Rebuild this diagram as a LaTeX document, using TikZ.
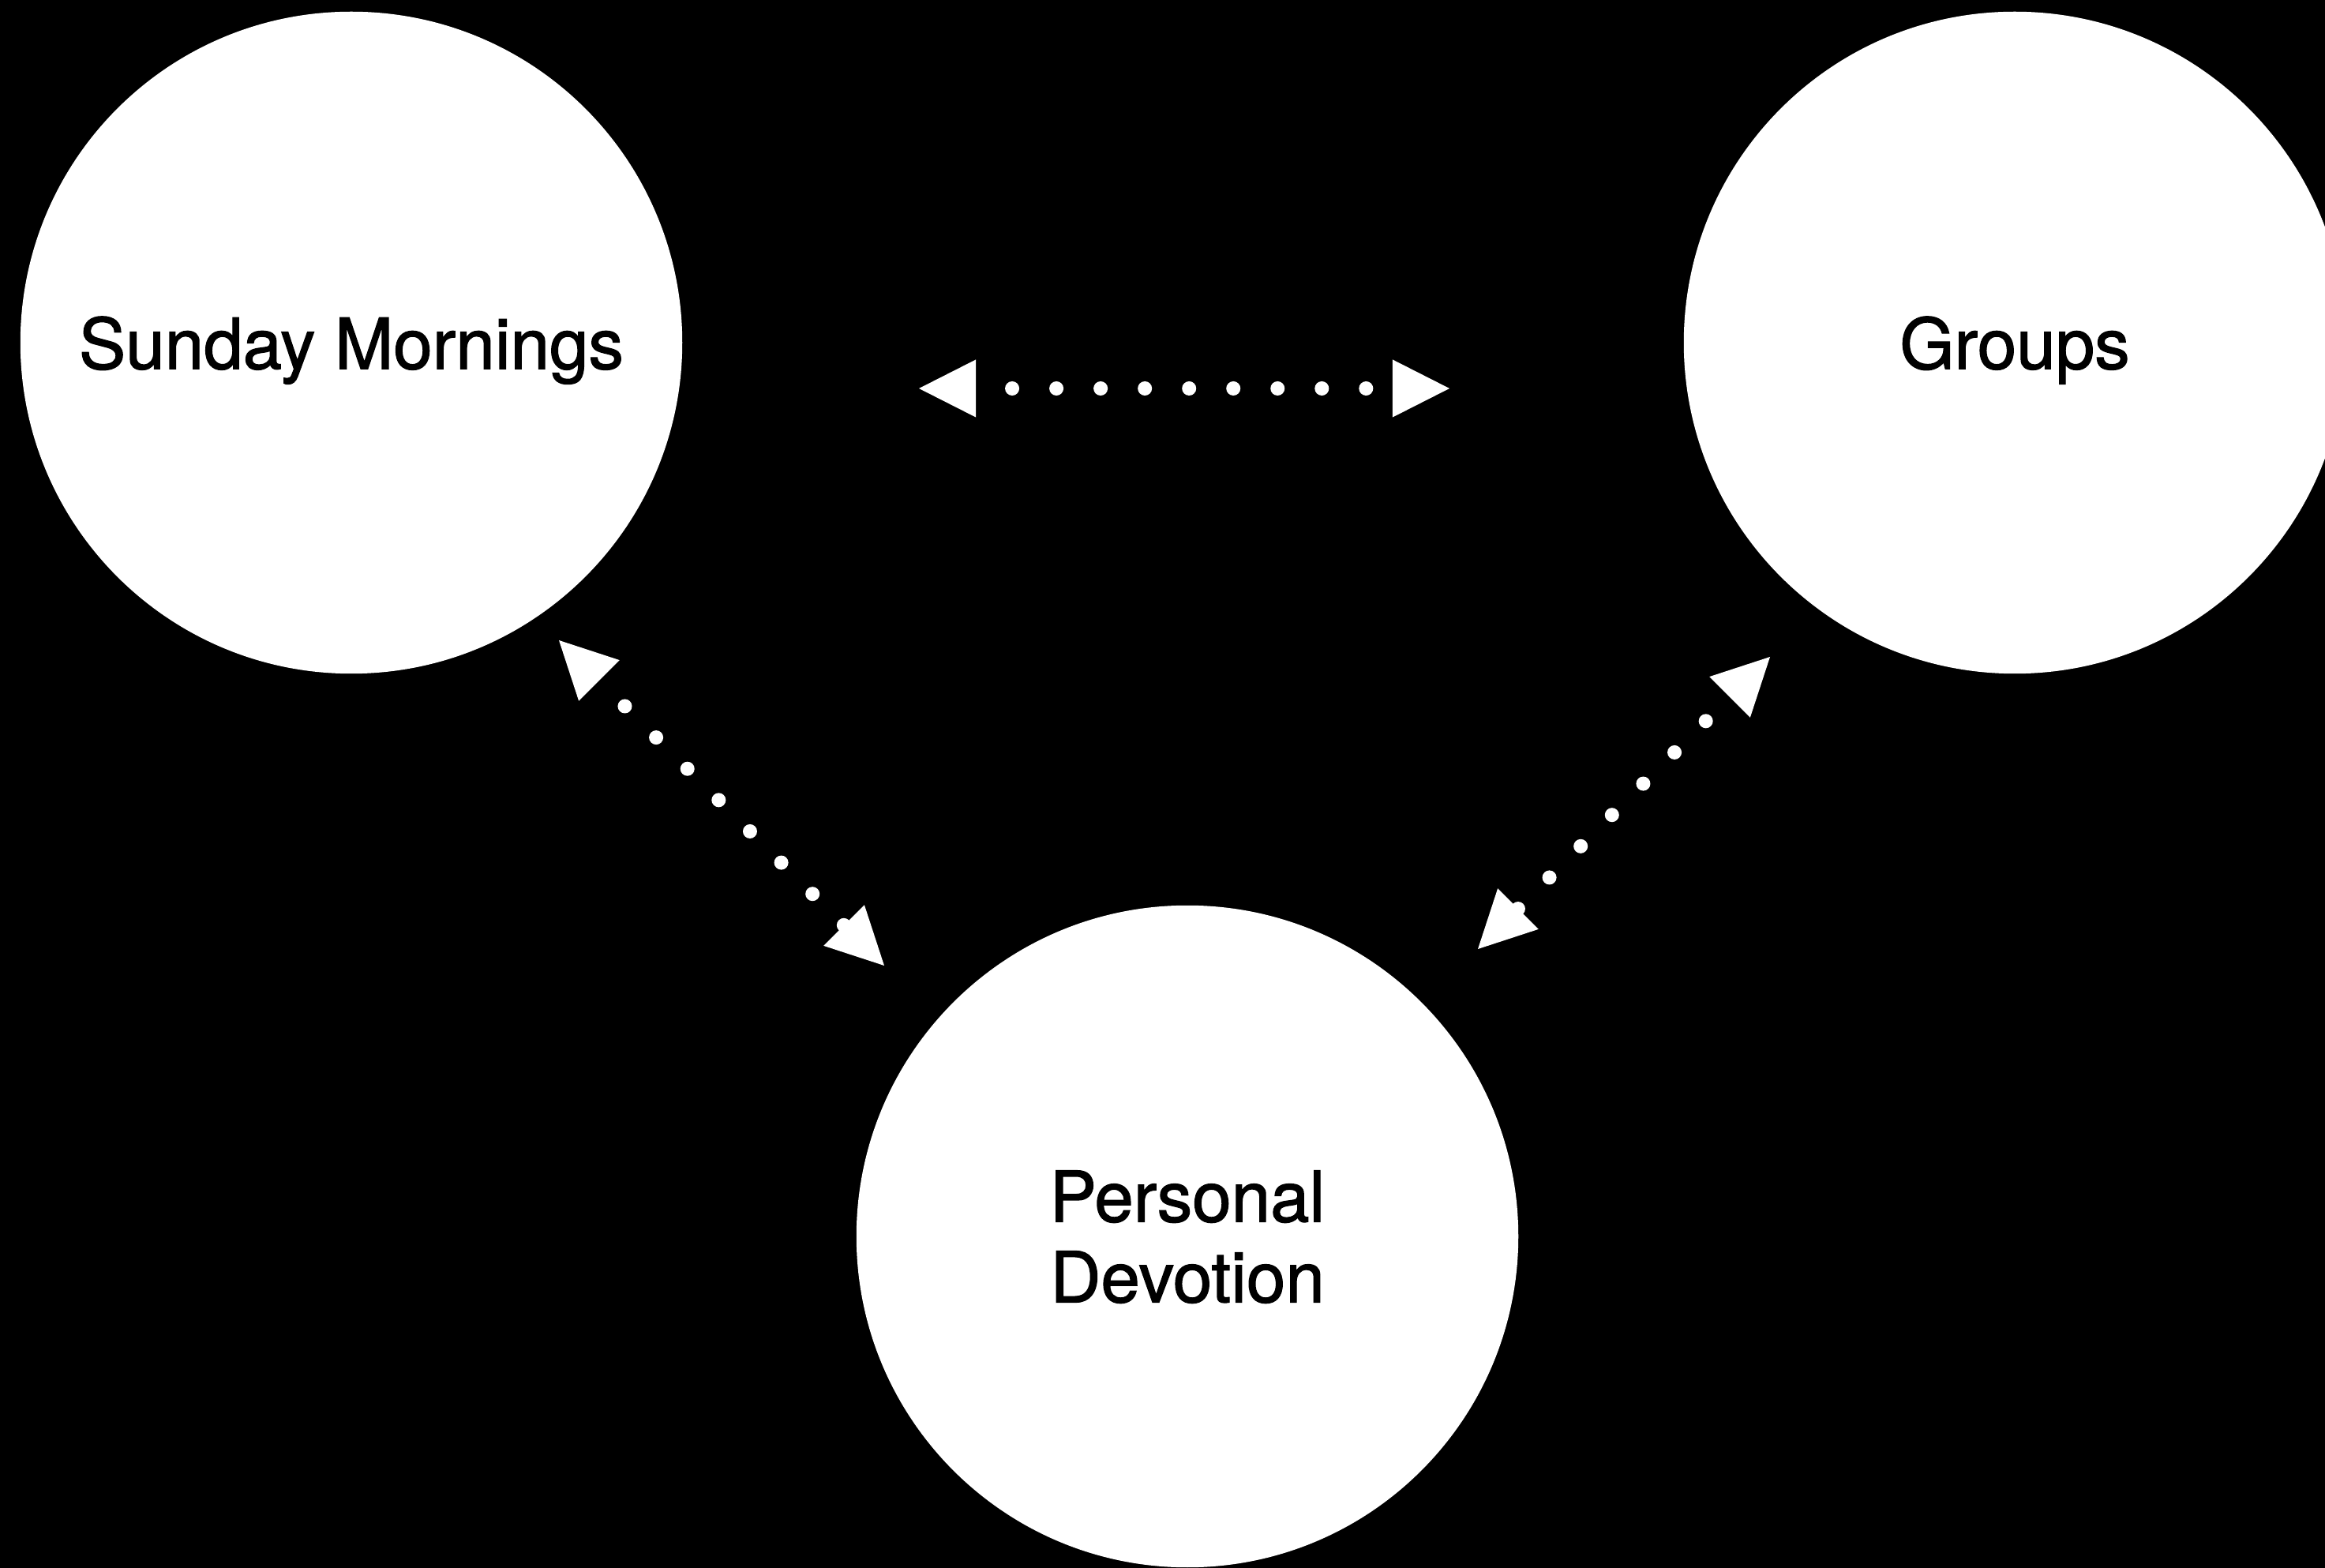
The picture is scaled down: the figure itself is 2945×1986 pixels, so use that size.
\documentclass[tikz,border=0pt]{standalone}
\usepackage{fontspec}
\setmainfont{TeX Gyre Heros}
\newfontfamily\labelfont{TeX Gyre Heros}[FakeBold=1.4]
\usetikzlibrary{arrows.meta}
\tikzset{
  stage/.style={circle, fill=white, minimum size=8.38cm, inner sep=0pt, align=center, text depth=0pt,
    font=\labelfont\fontsize{25.3}{29}\selectfont},
  link/.style={white, line width=0.18cm, line cap=round, dash pattern=on 0pt off 0.56cm,
    {Triangle[length=0.72cm,width=0.73cm,line width=0pt]}-{Triangle[length=0.72cm,width=0.73cm,line width=0pt]}}
}
\begin{document}
\begin{tikzpicture}[x=0.01cm,y=-0.01cm]
\useasboundingbox (0,0) rectangle (2945,1986);
\clip (0,0) rectangle (2945,1986);
\fill[black] (0,0) rectangle (2945,1986);
\node[stage] (sunday) at (445,434) {Sunday Mornings};
\node[stage] (groups) at (2552,434) {Groups};
\node[stage] (devotion) at (1504,1566) {Personal\\Devotion};
\coordinate (sg-a) at (1164,492);
\coordinate (sg-b) at (1836,492);
\coordinate (sd-a) at (708,811);
\coordinate (sd-b) at (1120,1223);
\coordinate (gd-a) at (1872,1202);
\coordinate (gd-b) at (2242,832);
\draw[link, dash phase=0.1cm] (sg-a) -- (sg-b);
\draw[link, dash phase=0.1cm] (sd-a) -- (sd-b);
\draw[link] (gd-a) -- (gd-b);
\end{tikzpicture}
\end{document}
